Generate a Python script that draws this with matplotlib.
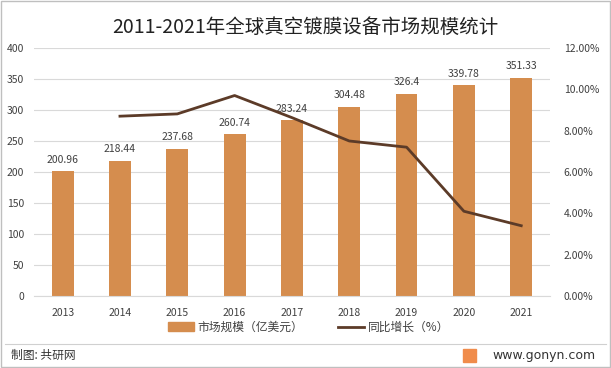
import matplotlib
matplotlib.use("Agg")
import matplotlib.pyplot as plt
from matplotlib.lines import Line2D
from matplotlib.patches import Rectangle, Patch
from matplotlib.ticker import FuncFormatter

plt.rcParams['font.family'] = ['Noto Sans CJK SC', 'DejaVu Sans']

# data
years = ['2013', '2014', '2015', '2016', '2017', '2018', '2019', '2020', '2021']
market = [200.96, 218.44, 237.68, 260.74, 283.24, 304.48, 326.4, 339.78, 351.33]
growth_years = ['2014', '2015', '2016', '2017', '2018', '2019', '2020', '2021']
growth = [8.70, 8.81, 9.70, 8.63, 7.50, 7.20, 4.10, 3.40]

bar_color = '#D58D4E'
line_color = '#5C3B28'
txt = '#404040'

fig = plt.figure(figsize=(6.11, 3.68), dpi=100)
ax = fig.add_axes([0.0556, 0.1957, 0.8444, 0.6739])

x = list(range(len(years)))
bars = ax.bar(x, market, width=0.38, color=bar_color, zorder=2)
for xi, v in zip(x, market):
    ax.text(xi, v + 11, f'{v:g}', ha='center', va='bottom', fontsize=7.5, color=txt)

ax.set_xlim(-0.5, len(years) - 0.5)
ax.set_ylim(0, 400)
ax.set_yticks(range(0, 401, 50))
ax.set_xticks(x)
ax.set_xticklabels(years)
ax.grid(axis='y', color='#d9d9d9', linewidth=0.8, zorder=0)
for s in ax.spines.values():
    s.set_visible(False)
ax.spines['bottom'].set_visible(True)
ax.spines['bottom'].set_color('#d9d9d9')
ax.tick_params(length=0, labelsize=7.5, colors=txt)
ax.tick_params(axis='x', pad=9)
ax.tick_params(axis='y', pad=7)

ax2 = ax.twinx()
gx = [years.index(y) for y in growth_years]
ax2.plot(gx, growth, color=line_color, linewidth=2, zorder=3)
ax2.set_ylim(0, 12)
ax2.set_yticks(range(0, 13, 2))
ax2.yaxis.set_major_formatter(FuncFormatter(lambda v, p: f'{v:.2f}%'))
for s in ax2.spines.values():
    s.set_visible(False)
ax2.tick_params(length=0, labelsize=7.5, colors=txt, pad=10)

fig.text(0.5, 0.925, '2011-2021年全球真空镀膜设备市场规模统计', ha='center', va='center',
         fontsize=14, color='#222222')

handles = [Patch(color=bar_color), Line2D([0], [0], color=line_color, linewidth=2)]
fig.legend(handles, ['市场规模（亿美元）', '同比增长（%）'], loc='center',
           bbox_to_anchor=(0.505, 0.111), ncol=2, frameon=False, fontsize=8.5,
           handlelength=2.2, columnspacing=3, handletextpad=0.3,
           labelcolor=txt)

# footer
fig.add_artist(Line2D([0.008, 0.992], [0.065, 0.065], color='#d0d0d0', linewidth=0.8))
fig.text(0.018, 0.033, '制图: 共研网', ha='left', va='center', fontsize=8.5, color='#333333')
fig.add_artist(Rectangle((0.757, 0.015), 0.022, 0.036, color='#F08C4B'))
fig.text(0.975, 0.033, 'www.gonyn.com', ha='right', va='center', fontsize=9, color='#333333',
         family=['DejaVu Sans'])
fig.add_artist(Rectangle((0.002, 0.003), 0.996, 0.994, fill=False, edgecolor='#bfbfbf', linewidth=1))

fig.savefig('out.png', dpi=100)
